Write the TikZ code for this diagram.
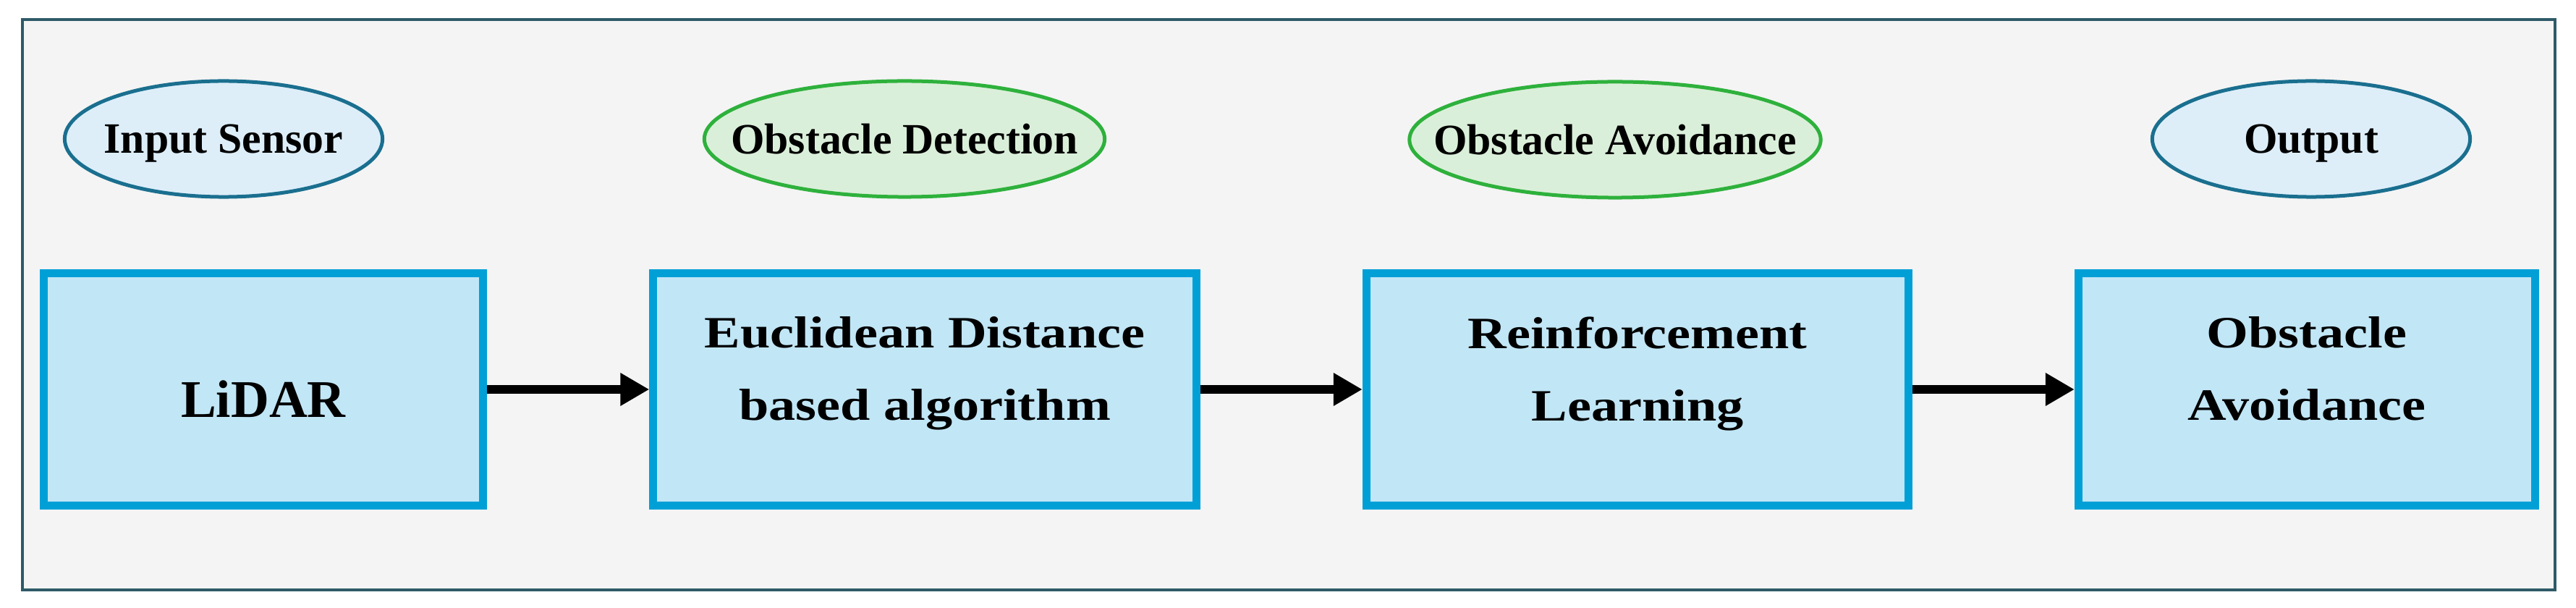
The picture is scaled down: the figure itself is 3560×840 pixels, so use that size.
\documentclass[tikz,border=0pt]{standalone}
\usepackage{fontspec}
\setmainfont{Liberation Serif}
\newfontfamily\wideserif{Liberation Serif}[FakeStretch=1.2]
\usetikzlibrary{arrows.meta,shapes.geometric}
\definecolor{framecol}{HTML}{2E5A68}
\definecolor{framebg}{HTML}{F4F4F4}
\definecolor{boxedge}{HTML}{00A0D7}
\definecolor{boxfill}{HTML}{C1E6F6}
\definecolor{tagblue}{HTML}{1A6F8F}
\definecolor{tagbluefill}{HTML}{DDEEF9}
\definecolor{taggreen}{HTML}{2EB13C}
\definecolor{taggreenfill}{HTML}{DAEFD9}
\begin{document}
\begin{tikzpicture}[x=.01cm,y=-.01cm,
  stage/.style={draw=boxedge,fill=boxfill,line width=.11cm,minimum height=3.21cm,inner sep=0pt,
    align=center,font=\wideserif\bfseries\fontsize{17.6}{28.45}\selectfont,text depth=.57cm},
  tag/.style={ellipse,line width=.05cm,minimum height=1.6cm,inner ysep=0pt,inner xsep=-.5cm,
    font=\bfseries\fontsize{17}{20}\selectfont,text depth=0pt},
  bluetag/.style={tag,draw=tagblue,fill=tagbluefill},
  greentag/.style={tag,draw=taggreen,fill=taggreenfill},
  flow/.style={-{Triangle[length=.4cm,width=.43cm]},line width=.12cm}]
  \path[use as bounding box] (0,0) rectangle (3560,840);
  \draw[framecol,fill=framebg,line width=.035cm] (31,27) rectangle (3531,815);
  % stage labels
  \node[bluetag,minimum width=4.39cm] (insensor) at (309,192) {Input Sensor};
  \node[greentag,minimum width=5.53cm] (detect) at (1250,192) {Obstacle Detection};
  \node[greentag,minimum width=5.56cm] (avoidtag) at (2232,193) {Obstacle Avoidance};
  \node[bluetag,minimum width=4.39cm] (output) at (3194,192) {Output};
  % pipeline
  \node[stage,minimum width=6.06cm,text depth=0pt,text height=.76cm,
    font=\bfseries\fontsize{20.8}{25}\selectfont] (lidar) at (364,538) {LiDAR};
  \node[stage,minimum width=7.5cm] (euclid) at (1278,538) {Euclidean Distance\\based algorithm};
  \node[stage,minimum width=7.49cm] (rl) at (2263,538) {Reinforcement\\Learning};
  \node[stage,minimum width=6.31cm] (avoid) at (3188,538) {Obstacle\\Avoidance};
  \draw[flow] (lidar) -- (euclid);
  \draw[flow] (euclid) -- (rl);
  \draw[flow] (rl) -- (avoid);
\end{tikzpicture}
\end{document}
